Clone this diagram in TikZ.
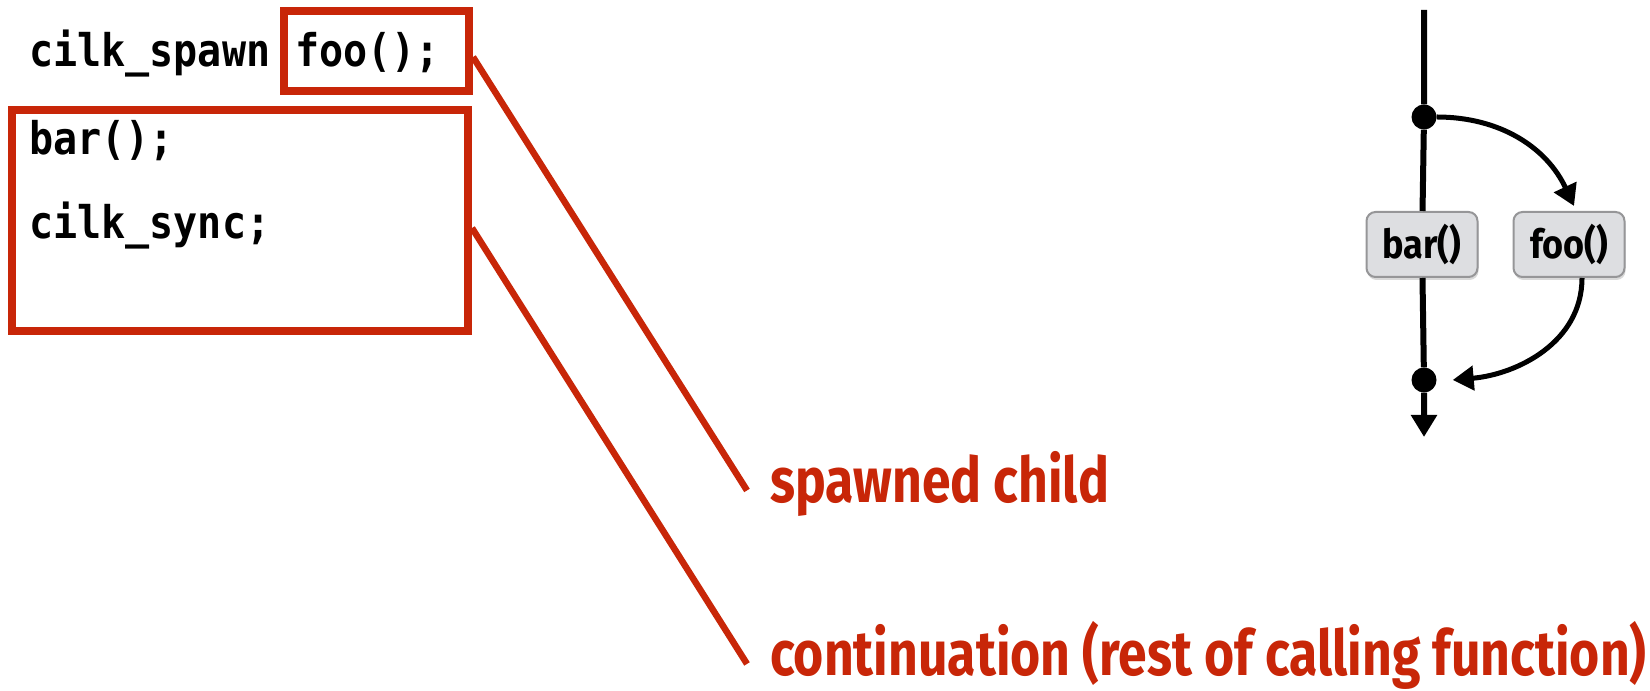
\documentclass[tikz,border=0pt]{standalone}
\usepackage{fontspec}
\usetikzlibrary{positioning,arrows.meta,calc,shadows}
\newfontfamily\codefont{DejaVu Sans Mono}[FakeStretch=0.89]
\newfontfamily\condfont{Fira Sans}[FakeStretch=0.82]
\newfontfamily\taskfont{Fira Sans}[FakeStretch=0.9]
\definecolor{SpawnRed}{RGB}{200,38,8}
\definecolor{TaskFill}{RGB}{221,222,225}
\definecolor{TaskEdge}{RGB}{150,150,152}

\begin{document}
\begin{tikzpicture}[x=1pt, y=1pt, every node/.style={inner sep=0pt}]
  \tikzset{
    code/.style={font=\codefont\bfseries\fontsize{45}{54}\selectfont, anchor=base west},
    redbox/.style={draw=SpawnRed, line width=8pt},
    lead/.style={SpawnRed, line width=6.5pt},
    note/.style={font=\condfont\bfseries\fontsize{63}{72}\selectfont, text=SpawnRed, anchor=base west, inner xsep=23pt},
    task/.style={draw=TaskEdge, line width=2pt, fill=TaskFill, rounded corners=9pt, minimum width=111pt, minimum height=65pt,
      font=\taskfont\bfseries\fontsize{40}{46}\selectfont, drop shadow={shadow xshift=1pt, shadow yshift=-3pt, opacity=0.3}},
    joint/.style={circle, fill, minimum size=25pt},
    strand/.style={line width=6pt, -{Triangle[length=22pt, width=25pt]}},
    flow/.style={line width=5pt, -{Triangle[length=21pt, width=24pt]}}
  }
  \useasboundingbox (0,0) rectangle (1650,691);
  % code on the left
  \node[code] (spawnkw) at (29,624) {cilk\_spawn};
  \node[code] (foocall) at (295,624) {foo();};
  \node[code] (barcall) at (29,536) {bar();};
  \node[code] (synccall) at (29,452) {cilk\_sync;};
  \node[redbox, minimum width=185pt, minimum height=80pt] (spawnbox) at (376.5,640) {};
  \node[redbox, minimum width=456pt, minimum height=221pt] (contbox) at (240,470.5) {};
  % labels
  \node[note] (childlabel) at (747,188) {spawned child};
  \node[note] (contlabel) at (747,15) {continuation (rest of calling function)};
  \draw[lead] ([yshift=-6pt]spawnbox.east) -- ([yshift=-6pt]childlabel.west);
  \draw[lead] ([yshift=-7.5pt]contbox.east) -- ([yshift=-8pt]contlabel.west);
  % spawn graph
  \coordinate (strandtop) at (1424,681);
  \node[joint] (spawn) at (1424,574) {};
  \node[task] (bar) at (1422,446.5) {bar()};
  \node[task] (foo) at (1569,446.5) {foo()};
  \node[joint] (sync) at (1424,311) {};
  \coordinate (strandend) at (1424,254);
  \draw[strand] (strandtop) -- (spawn) -- (bar) -- (sync) -- (strandend);
  \draw[flow] (spawn) to[out=0, in=115] ([xshift=5pt, yshift=5pt]foo.north);
  \draw[flow] ([xshift=13pt]foo.south) to[out=-90, in=5] ([xshift=16pt]sync.east);
\end{tikzpicture}
\end{document}
